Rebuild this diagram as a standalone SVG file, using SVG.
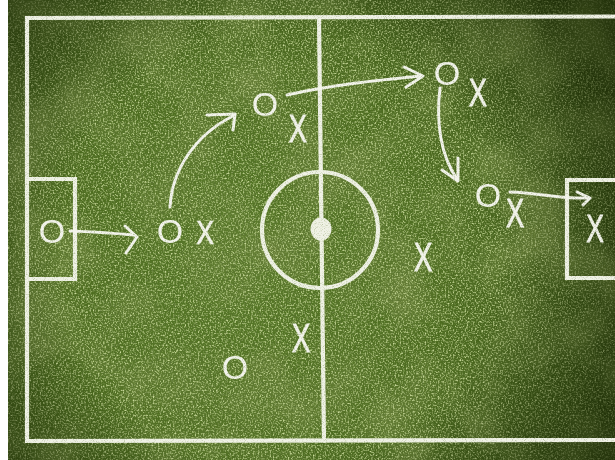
<svg xmlns="http://www.w3.org/2000/svg" width="615" height="460" viewBox="0 0 615 460">
  <defs>
    <radialGradient id="grassGrad" cx="250" cy="260" r="430" gradientUnits="userSpaceOnUse">
      <stop offset="0" stop-color="#587a28"/>
      <stop offset="0.45" stop-color="#4c6c1e"/>
      <stop offset="0.8" stop-color="#3a5515"/>
      <stop offset="1" stop-color="#24360b"/>
    </radialGradient>
    <radialGradient id="vignette" cx="280" cy="250" r="400" gradientUnits="userSpaceOnUse">
      <stop offset="0.55" stop-color="#1a2705" stop-opacity="0"/>
      <stop offset="1" stop-color="#1a2705" stop-opacity="0.75"/>
    </radialGradient>
    <filter id="blotch" x="0" y="0" width="100%" height="100%">
      <feTurbulence type="fractalNoise" baseFrequency="0.014" numOctaves="3" seed="7" result="n"/>
      <feColorMatrix in="n" type="matrix" values="0 0 0 0 0.14  0 0 0 0 0.22  0 0 0 0 0.04  3 0 0 0 -1.25"/>
    </filter>
    <filter id="specLight" x="0" y="0" width="100%" height="100%">
      <feTurbulence type="fractalNoise" baseFrequency="0.6" numOctaves="2" seed="3" result="n"/>
      <feColorMatrix in="n" type="matrix" values="0 0 0 0 0.58  0 0 0 0 0.7  0 0 0 0 0.32  2.6 0 0 0 -1.2"/>
    </filter>
    <filter id="specDark" x="0" y="0" width="100%" height="100%">
      <feTurbulence type="fractalNoise" baseFrequency="0.5" numOctaves="2" seed="11" result="n"/>
      <feColorMatrix in="n" type="matrix" values="0 0 0 0 0.1  0 0 0 0 0.17  0 0 0 0 0.03  0 2.6 0 0 -1.1"/>
    </filter>
    <filter id="chalk" x="-5%" y="-5%" width="110%" height="110%">
      <feTurbulence type="fractalNoise" baseFrequency="1.1" numOctaves="1" seed="5" result="t"/>
      <feColorMatrix in="t" type="matrix" values="0 0 0 0 0  0 0 0 0 0  0 0 0 0 0  0 0 0 -1.2 1.6" result="a"/>
      <feComposite in="SourceGraphic" in2="a" operator="in"/>
    </filter>
    <style>
      .line { fill: none; stroke: #f0f2e6; stroke-width: 4.2; stroke-linecap: round; stroke-linejoin: miter; }
      .draw { fill: none; stroke: #f3f4ec; stroke-width: 3; stroke-linecap: round; stroke-linejoin: round; }
      .o { font-family: "Liberation Sans", Arial, sans-serif; font-size: 34px; fill: #f3f4ec; text-anchor: middle; }
      .x { font-family: "Liberation Sans", Arial, sans-serif; font-size: 38px; fill: #f3f4ec; stroke: #f3f4ec; stroke-width: 0.8px; text-anchor: middle; }
    </style>
  </defs>

  <!-- grass -->
  <rect x="0" y="0" width="615" height="460" fill="url(#grassGrad)"/>
  <rect x="0" y="0" width="615" height="460" filter="url(#blotch)"/>
  <rect x="0" y="0" width="615" height="460" filter="url(#specDark)"/>
  <rect x="0" y="0" width="615" height="460" filter="url(#specLight)"/>
  <rect x="0" y="0" width="615" height="460" fill="url(#vignette)"/>
  <rect x="0" y="0" width="8" height="460" fill="#ffffff"/>

  <!-- pitch markings -->
  <g id="pitch" filter="url(#chalk)">
    <path class="line" d="M615 16.5 L27 18 L27 441 L615 440"/>
    <path class="line" d="M319 18 L324 441"/>
    <circle class="line" cx="320" cy="230" r="58"/>
    <ellipse cx="321" cy="229" rx="10.5" ry="11.5" fill="#f0f2e6"/>
    <path class="line" d="M27 179 H75 V279 H27"/>
    <path class="line" d="M615 180 H567 V278 H615"/>
  </g>

  <!-- connectors -->
  <g id="connectors" filter="url(#chalk)">
    <path class="draw" d="M70 231 Q100 232 134 235"/>
    <path class="draw" d="M125 226 L137 237 L126 253"/>
    <path class="draw" d="M170 207 C172 170 195 135 233 116"/>
    <path class="draw" d="M207 115 L235 114 L233 130"/>
    <path class="draw" d="M287 95 C330 85 380 80 421 76"/>
    <path class="draw" d="M404 67 L423 76 L406 87"/>
    <path class="draw" d="M440 88 C436 120 440 155 457 179"/>
    <path class="draw" d="M442 170 L458 181 L458 158"/>
    <path class="draw" d="M510 192 C540 193 560 199 588 198"/>
    <path class="draw" d="M577 192 L590 198 L583 205"/>
  </g>

  <!-- team O -->
  <g id="team-o" filter="url(#chalk)">
    <g id="o1"><text class="o" x="52" y="242.5">O</text></g>
    <g id="o2"><text class="o" x="170" y="242.5">O</text></g>
    <g id="o3"><text class="o" x="265" y="115.5">O</text></g>
    <g id="o4"><text class="o" x="447" y="84.5">O</text></g>
    <g id="o5"><text class="o" x="488" y="206.5">O</text></g>
    <g id="o6"><text class="o" x="235" y="378.5">O</text></g>
  </g>

  <!-- team X -->
  <g id="team-x" filter="url(#chalk)">
    <g id="x1"><text class="x" transform="translate(205,232) scale(0.7,0.88)" y="13.6">X</text></g>
    <g id="x2"><text class="x" transform="translate(298,128) scale(0.72,1)" y="13.6">X</text></g>
    <g id="x3"><text class="x" transform="translate(478,92) scale(0.72,1)" y="13.6">X</text></g>
    <g id="x4"><text class="x" transform="translate(515,213) scale(0.72,1.05)" y="13.6">X</text></g>
    <g id="x5"><text class="x" transform="translate(595,228) scale(0.7,1)" y="13.6">X</text></g>
    <g id="x6"><text class="x" transform="translate(423,257) scale(0.74,1.05)" y="13.6">X</text></g>
    <g id="x7"><text class="x" transform="translate(301,338) scale(0.74,1.05)" y="13.6">X</text></g>
  </g>
</svg>
